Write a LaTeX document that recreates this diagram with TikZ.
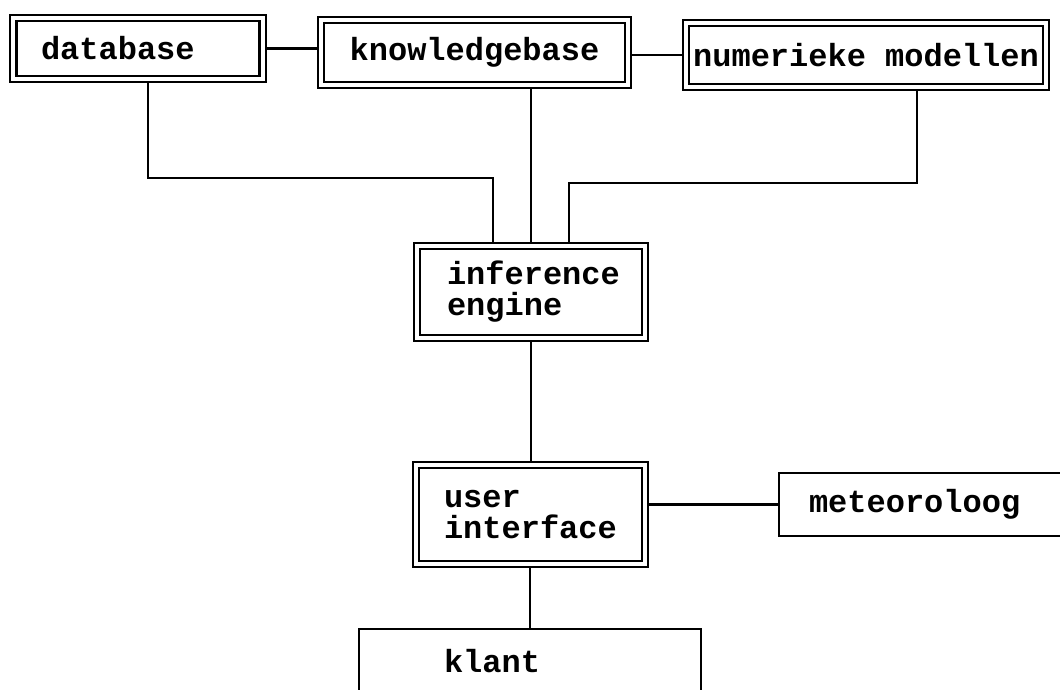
\documentclass[tikz,border=0pt]{standalone}
\usepackage{fontspec}
\setmonofont{Liberation Mono}
\begin{document}
\begin{tikzpicture}[x=1pt,y=-1pt,
  font=\fontsize{32pt}{31pt}\selectfont\ttfamily\bfseries,
  dbox/.style={draw, double, double distance=4pt, line width=2.2pt, rectangle,
    inner ysep=0pt, align=left, outer sep=4.2pt},
  sbox/.style={draw, line width=2pt, rectangle, inner ysep=0pt, align=left, outer sep=1pt},
  conn/.style={line width=2.2pt}]
\useasboundingbox (0,0) rectangle (1060,689);
\clip (0,0) rectangle (1060,689);
\node[dbox, minimum height=60.6pt, text width=194pt, inner xsep=27.6pt] (db) at (138,48.5) {database};
\node[dbox, minimum height=64.6pt, minimum width=306.6pt, align=center] (kb) at (474.5,52.5) {knowledgebase};
\node[dbox, minimum height=63.6pt, minimum width=359.6pt, inner xsep=0pt, align=center] (nm) at (866,55) {numerieke modellen};
\node[dbox, minimum height=91.6pt, text width=168pt, inner xsep=29.8pt] (ie) at (531,292) {inference\\engine};
\node[dbox, minimum height=98.6pt, text width=173pt, inner xsep=27.8pt] (ui) at (530.5,514.5) {user\\interface};
\node[sbox, minimum height=63pt, text width=340pt, inner xsep=30pt] (mt) at (979,504.5) {meteoroloog};
\node[sbox, minimum height=65pt, text width=172pt, inner xsep=85pt] (kl) at (530,661.5) {klant};
\coordinate (dbbend) at (493,178);
\coordinate (nmbend) at (569,183);
\draw[conn] (db.east) -- (db.east -| kb.west);
\draw[conn] (kb.east |- nm.west) -- (nm.west);
\draw[conn] ([xshift=10pt]db.south) |- (dbbend) -- (dbbend |- ie.north);
\draw[conn] (kb.south -| ie.north) -- (ie.north);
\draw[conn] ([xshift=51pt]nm.south) |- (nmbend) -- (nmbend |- ie.north);
\draw[conn] (ie.south) -- (ie.south |- ui.north);
\draw[conn] (mt.west -| ui.east) -- (mt.west);
\draw[conn] (ui.south -| kl.north) -- (kl.north);
\end{tikzpicture}
\end{document}
